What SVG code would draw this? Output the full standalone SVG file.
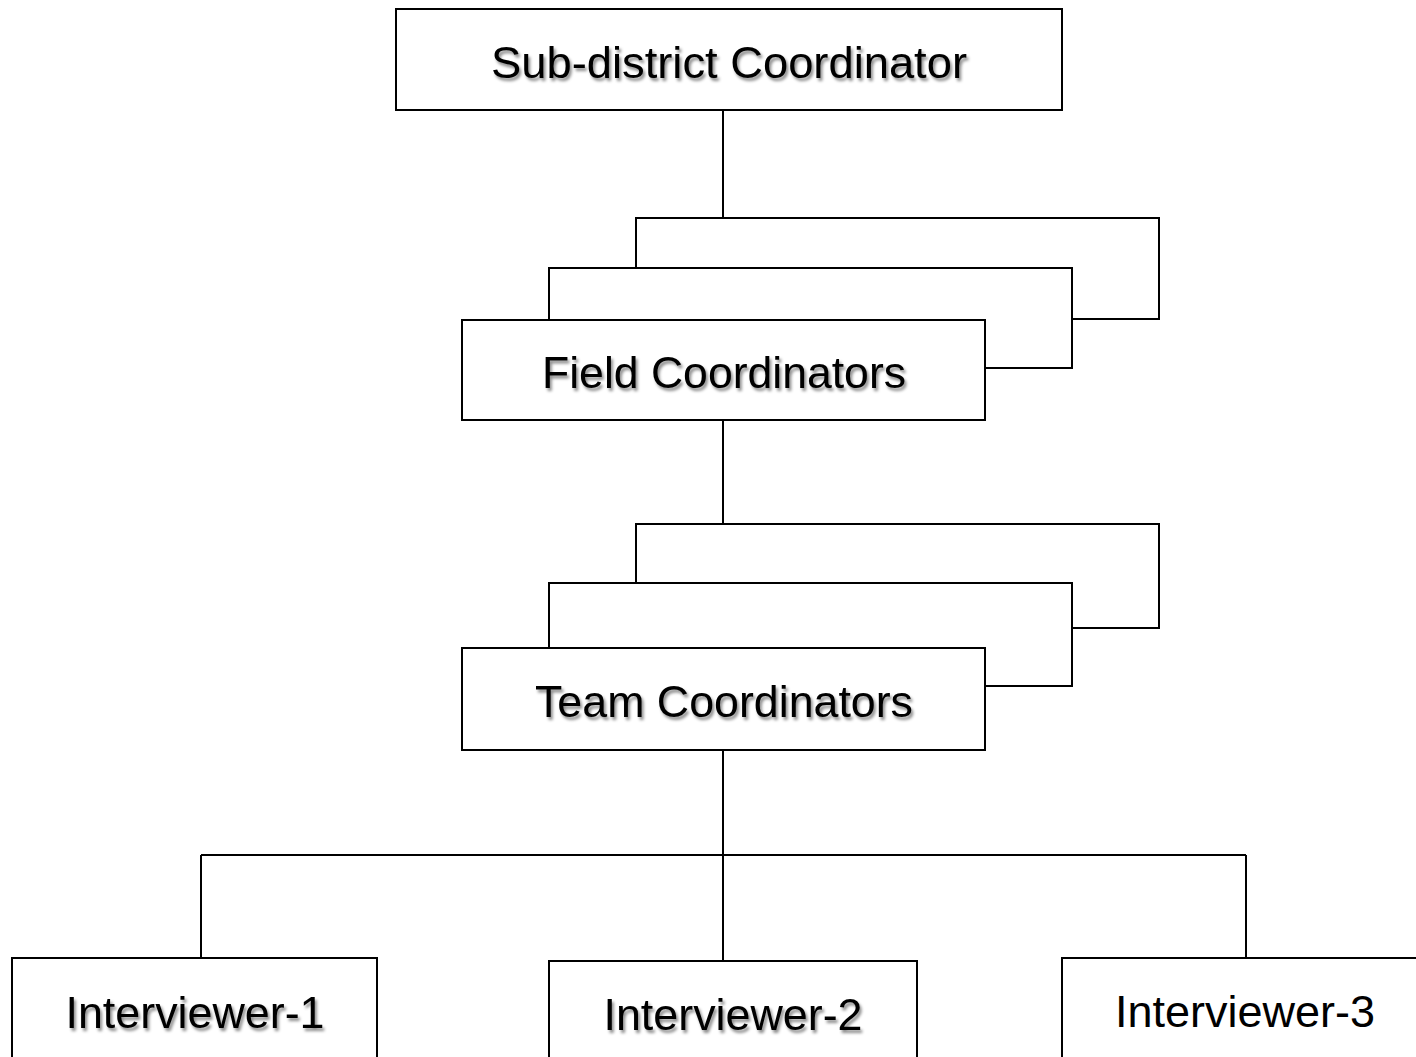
<svg xmlns="http://www.w3.org/2000/svg" width="1416" height="1057" viewBox="0 0 1416 1057">
<style>
.box{fill:#fff;stroke:#000;stroke-width:2}
.ln{stroke:#000;stroke-width:2;fill:none}
.t{font-family:"Liberation Sans",Arial,sans-serif;font-size:44px;fill:#000;text-anchor:middle}
.sh{filter:url(#shadow)}
</style>
<defs>
<filter id="shadow" x="-10%" y="-30%" width="120%" height="160%">
<feDropShadow dx="2" dy="3" stdDeviation="1.5" flood-color="#000" flood-opacity="0.45"/>
</filter>
</defs>
<rect width="1416" height="1057" fill="#fff"/>
<g id="connectors">
<line class="ln" x1="723" y1="110" x2="723" y2="218"/>
<line class="ln" x1="723" y1="420" x2="723" y2="524"/>
<line class="ln" x1="723" y1="750" x2="723" y2="961"/>
<line class="ln" x1="201" y1="855" x2="1246" y2="855"/>
<line class="ln" x1="201" y1="855" x2="201" y2="958"/>
<line class="ln" x1="1246" y1="855" x2="1246" y2="958"/>
</g>
<g id="sub-district">
<rect class="box" x="396" y="9" width="666" height="101"/>
<text class="t sh" x="729" y="78" textLength="476" lengthAdjust="spacingAndGlyphs">Sub-district Coordinator</text>
</g>
<g id="field-coordinators">
<rect class="box" x="636" y="218" width="523" height="101"/>
<rect class="box" x="549" y="268" width="523" height="100"/>
<rect class="box" x="462" y="320" width="523" height="100"/>
<text class="t sh" x="724" y="388" textLength="364" lengthAdjust="spacingAndGlyphs">Field Coordinators</text>
</g>
<g id="team-coordinators">
<rect class="box" x="636" y="524" width="523" height="104"/>
<rect class="box" x="549" y="583" width="523" height="103"/>
<rect class="box" x="462" y="648" width="523" height="102"/>
<text class="t sh" x="724" y="717" textLength="378" lengthAdjust="spacingAndGlyphs">Team Coordinators</text>
</g>
<g id="interviewer-1">
<rect class="box" x="12" y="958" width="365" height="110"/>
<text class="t sh" x="195" y="1028" textLength="259" lengthAdjust="spacingAndGlyphs">Interviewer-1</text>
</g>
<g id="interviewer-2">
<rect class="box" x="549" y="961" width="368" height="110"/>
<text class="t sh" x="733" y="1030" textLength="259" lengthAdjust="spacingAndGlyphs">Interviewer-2</text>
</g>
<g id="interviewer-3">
<rect class="box" x="1062" y="958" width="370" height="110"/>
<text class="t" x="1245" y="1027" textLength="260" lengthAdjust="spacingAndGlyphs">Interviewer-3</text>
</g>
</svg>
